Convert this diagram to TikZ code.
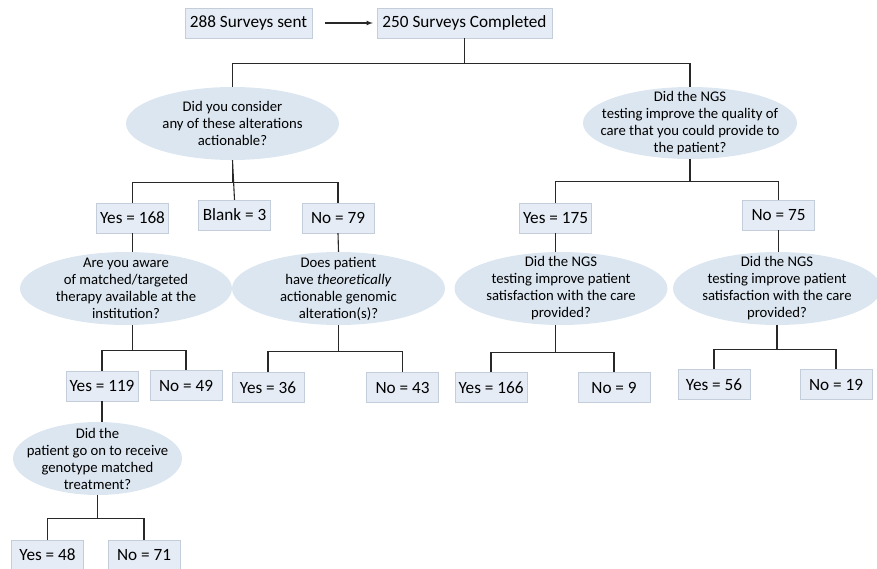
\documentclass[tikz,border=0pt]{standalone}
\usepackage{fontspec}
\setmainfont{Carlito}
\usepackage{tikz}
\usetikzlibrary{shapes}
\usetikzlibrary{shapes.geometric}

\definecolor{boxfill}{RGB}{229,236,245}
\definecolor{boxline}{RGB}{196,206,219}
\definecolor{askfill}{RGB}{220,230,240}
\definecolor{linegray}{RGB}{40,40,40}

\tikzset{
  tally/.style = {draw = boxline, fill = boxfill, minimum width = 72pt, minimum height = 30pt, inner xsep = 3pt, font = \fontsize{17.2}{20}\selectfont},
  ask/.style = {ellipse, fill = askfill, inner sep = 0pt, minimum height = 73pt},
  asktext/.style = {align = center, font = \fontsize{14.7}{17}\selectfont},
  link/.style = {draw = linegray, line width = 1.1pt}
}

\begin{document}
\begin{tikzpicture}[x = 1pt, y = -1pt]
 \useasboundingbox (0, 0) rectangle (877, 569);
 % top row
 \node (sent) at (248.5, 23) [tally, minimum width = 127pt] {288 Surveys sent};
 \node (done) at (464.5, 23) [tally, minimum width = 175pt] {250 Surveys Completed};
 \draw[link, -latex, shorten <= 13pt, shorten >= 4pt] (sent) -- (done);
 % first questions
 \node (q1) at (232.5, 123.5) [ask, minimum width = 213pt, label = {[asktext]center:{Did you consider\\any of these alterations\\actionable?}}] {};
 \node (q2) at (690, 123) [ask, minimum width = 214pt, minimum height = 72pt, label = {[asktext]center:{Did the NGS\\testing improve the quality of\\care that you could provide to\\the patient?}}] {};
 \draw[link] (done.south) -- ++(0, 25) -| (q1.north);
 \draw[link] (done.south) -- ++(0, 25) -| (q2.north);
 % answers
 \node (yA) at (132.5, 218) [tally] {Yes = 168};
 \node (blank) at (234.5, 215) [tally] {Blank = 3};
 \node (nA) at (338, 218) [tally] {No = 79};
 \node (yB) at (555.5, 218) [tally] {Yes = 175};
 \node (nB) at (778.5, 215) [tally] {No = 75};
 \draw[link] (q1.south) -- ++(0, 22) -| (yA.north);
 \draw[link] (q1.south) -- (blank.north);
 \draw[link] (q1.south) -- ++(0, 22) -| (nA.north);
 \draw[link] (q2.south) -- ++(0, 22) -| (yB.north);
 \draw[link] (q2.south) -- ++(0, 22) -| (nB.north);
 % second questions
 \node (q3) at (126, 288.5) [ask, minimum width = 212pt, label = {[asktext]center:{Are you aware\\of matched/targeted\\therapy available at the\\institution?}}] {};
 \node (q4) at (338.5, 288.5) [ask, minimum width = 213pt, label = {[asktext]center:{Does patient\\have \emph{theoretically}\\actionable genomic\\alteration(s)?}}] {};
 \node (q5) at (561, 288.5) [ask, minimum width = 213pt, label = {[asktext]center:{Did the NGS\\testing improve patient\\satisfaction with the care\\provided?}}] {};
 \node (q6) at (777, 288.5) [ask, minimum width = 208pt, label = {[asktext]center:{Did the NGS\\testing improve patient\\satisfaction with the care\\provided?}}] {};
 \draw[link] (yA.south) -- (yA.south |- q3.north);
 \draw[link] (nA.south) -- (q4.north);
 \draw[link] (yB.south) -- (yB.south |- q5.north);
 \draw[link] (nB.south) -- (nB.south |- q6.north);
 % answers
 \node (yC) at (102, 386) [tally] {Yes = 119};
 \node (nC) at (186, 385.5) [tally] {No = 49};
 \node (yD) at (268, 387.5) [tally] {Yes = 36};
 \node (nD) at (402.5, 387.5) [tally] {No = 43};
 \node (yE) at (491, 387.5) [tally] {Yes = 166};
 \node (nE) at (614, 387.5) [tally] {No = 9};
 \node (yF) at (714, 384.5) [tally] {Yes = 56};
 \node (nF) at (836, 384.5) [tally] {No = 19};
 \draw[link] (q3.south -| yA.south) -- ++(0, 25) -| (yC.north);
 \draw[link] (q3.south -| yA.south) -- ++(0, 25) -| (nC.north);
 \draw[link] (q4.south) -- ++(0, 26) -| (yD.north);
 \draw[link] (q4.south) -- ++(0, 26) -| (nD.north);
 \draw[link] (q5.south -| yB.south) -- ++(0, 27) -| (yE.north);
 \draw[link] (q5.south -| yB.south) -- ++(0, 27) -| (nE.north);
 \draw[link] (q6.south) -- ++(0, 24) -| (yF.north);
 \draw[link] (q6.south) -- ++(0, 24) -| (nF.north);
 % last question
 \node (q7) at (97.5, 458.5) [ask, minimum width = 169pt, label = {[asktext]center:{Did the\\patient go on to receive\\genotype matched\\treatment?}}] {};
 \draw[link] (yC.south) -- (yC.south |- q7.north);
 \node (yG) at (47.5, 555) [tally] {Yes = 48};
 \node (nG) at (144, 555) [tally] {No = 71};
 \draw[link] (q7.south) -- ++(0, 23) -| (yG.north);
 \draw[link] (q7.south) -- ++(0, 23) -| (nG.north);
\end{tikzpicture}
\end{document}
